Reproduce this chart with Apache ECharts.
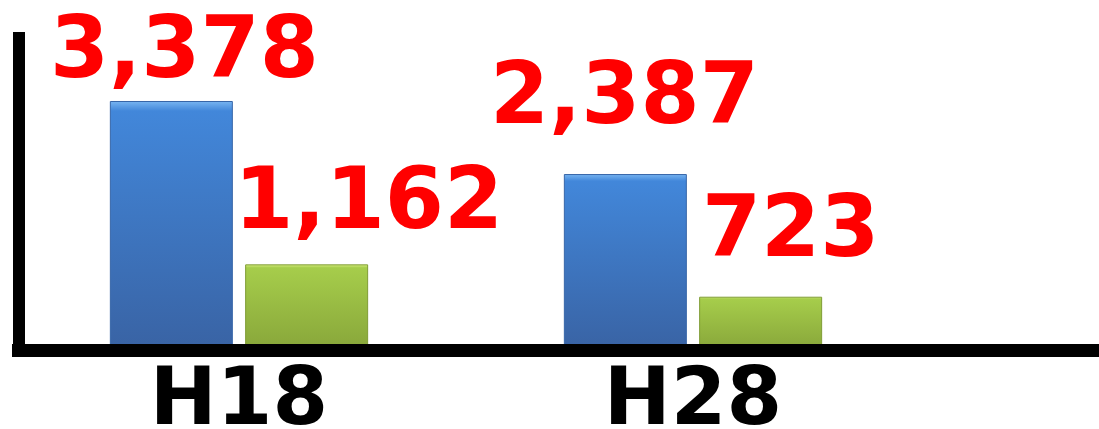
<!DOCTYPE html>
<html>
<head>
    <meta charset="utf-8">
    <title>H18 / H28</title>
    <script src="https://cdn.jsdelivr.net/npm/echarts@6/dist/echarts.min.js"></script>
    <style>
        html, body { margin: 0; padding: 0; background: #fff; }
        #chart { width: 1099px; height: 429px; }
    </style>
</head>
<body>
    <div id="chart"></div>
    <script>
    // values
    var categories = ["H18", "H28", ""];
    var blueValues = [3378, 2387];
    var greenValues = [1162, 723];

    // label nudges [dx, dy] so the numbers sit where the original puts them
    var blueLabelOffset = [[13, -4], [-1, -31]];
    var greenLabelOffset = [[62, -16], [30, -20]];

    var bigFont = "DejaVu Sans";

    function withLabels(values, offsets) {
        return values.map(function(v, i) {
            return { value: v, label: { offset: offsets[i] } };
        });
    }

    function grad(c0, c1, c2) {
        return new echarts.graphic.LinearGradient(0, 0, 0, 1, [
            { offset: 0, color: c0 },
            { offset: 0.04, color: c1 },
            { offset: 1, color: c2 }
        ]);
    }

    var valueLabel = {
        show: true,
        position: "top",
        distance: 0,
        color: "#ff0000",
        fontFamily: bigFont,
        fontWeight: "bold",
        fontSize: 85,
        formatter: function(p) { return p.value.toLocaleString("en-US"); }
    };

    var chart = echarts.init(document.getElementById("chart"), null, { renderer: "canvas" });
    chart.setOption({
        animation: false,
        grid: { left: 12, right: -275, top: 32, bottom: 79, outerBoundsMode: "none" },
        xAxis: {
            type: "category",
            data: categories,
            z: 5,
            axisLine: { lineStyle: { color: "#000", width: 13, cap: "butt" } },
            axisTick: { show: false },
            axisLabel: {
                color: "#000",
                fontFamily: bigFont,
                fontWeight: "bold",
                fontSize: 80,
                margin: 13
            }
        },
        yAxis: {
            type: "value",
            min: 0,
            max: 4314,
            offset: -7,
            z: 5,
            axisLine: { show: true, lineStyle: { color: "#000", width: 12, cap: "butt" } },
            axisTick: { show: false },
            axisLabel: { show: false },
            splitLine: { show: false }
        },
        series: [{
            type: "bar",
            data: withLabels(blueValues, blueLabelOffset),
            barWidth: 123,
            barGap: "10%",
            itemStyle: {
                color: grad("#79b6f2", "#4287da", "#3963a4"),
                borderColor: "#3766a8",
                borderWidth: 1
            },
            label: valueLabel
        }, {
            type: "bar",
            data: withLabels(greenValues, greenLabelOffset),
            barWidth: 123,
            barGap: "10%",
            itemStyle: {
                color: grad("#dcf284", "#a6cd4b", "#88a63a"),
                borderColor: "#7f9c35",
                borderWidth: 1
            },
            label: valueLabel
        }]
    });
    </script>
</body>
</html>
